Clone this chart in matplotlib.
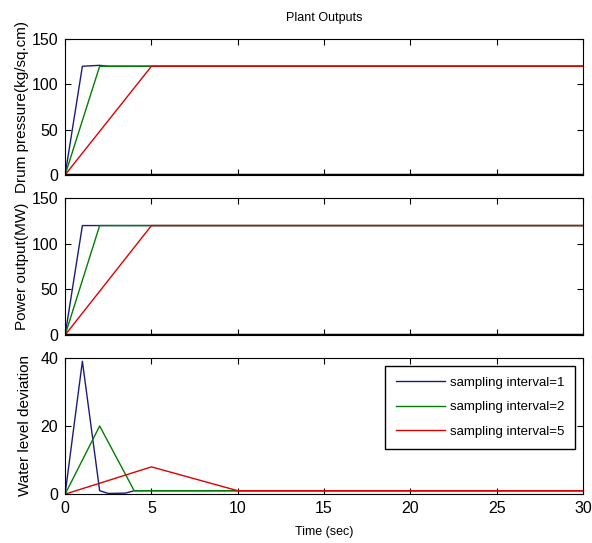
import matplotlib.pyplot as plt

plt.rcParams['font.family'] = ['Liberation Sans', 'DejaVu Sans']

# time samples and responses for each sampling interval
t1 = [0, 1, 2, 2.5, 3, 30]
t2 = [0, 2, 30]
t5 = [0, 5, 30]

drum1 = [0, 120, 121, 120, 120, 120]
drum2 = [0, 120, 120]
drum5 = [0, 120, 120]

power1 = [0, 120, 120, 120, 120, 120]
power2 = [0, 120, 120]
power5 = [0, 120, 120]

wt1 = [0, 1, 2, 2.5, 3.5, 4, 30]
water1 = [0, 39, 1, 0.2, 0.3, 1, 1]
wt2 = [0, 2, 4, 10, 30]
water2 = [0, 20, 1, 1, 1]
wt5 = [0, 5, 10, 30]
water5 = [0, 8, 1, 1]

labels = ['sampling interval=1', 'sampling interval=2', 'sampling interval=5']
colors = ['#1c1c80', '#008000', '#e00000']

fig = plt.figure(figsize=(5.92, 5.43), dpi=100)
ax1 = fig.add_axes([0.110, 0.678, 0.875, 0.250])
ax2 = fig.add_axes([0.110, 0.383, 0.875, 0.252])
ax3 = fig.add_axes([0.110, 0.090, 0.875, 0.251])

ax1.plot(t1, drum1, color=colors[0], lw=1)
ax1.plot(t2, drum2, color=colors[1], lw=1)
ax1.plot(t5, drum5, color=colors[2], lw=1)
ax1.axhline(0, color='black', lw=2.5)
ax1.set_ylim(0, 150)
ax1.set_ylabel('Drum pressure(kg/sq.cm)', fontsize=11, labelpad=2)
ax1.set_title('Plant Outputs', fontsize=9, pad=13)

ax2.plot(t1, power1, color=colors[0], lw=1)
ax2.plot(t2, power2, color=colors[1], lw=1)
ax2.plot(t5, power5, color=colors[2], lw=1)
ax2.axhline(0, color='black', lw=2.5)
ax2.set_ylim(0, 150)
ax2.set_ylabel('Power output(MW)', fontsize=11, labelpad=2)

ax3.plot(wt1, water1, color=colors[0], lw=1, label=labels[0])
ax3.plot(wt2, water2, color=colors[1], lw=1, label=labels[1])
ax3.plot(wt5, water5, color=colors[2], lw=1, label=labels[2])
ax3.set_ylim(0, 40)
ax3.set_yticks([0, 20, 40])
ax3.set_ylabel('Water level deviation', fontsize=11, labelpad=6)
ax3.set_xlabel('Time (sec)', fontsize=9, labelpad=7)
ax3.legend(loc='upper right', fontsize=9.5, fancybox=False, edgecolor='black',
           framealpha=1, borderpad=0.8, handlelength=3.7, handletextpad=0.4,
           labelspacing=0.95, borderaxespad=0.6)

for ax in (ax1, ax2, ax3):
    ax.set_xlim(0, 30)
    ax.set_xticks([0, 5, 10, 15, 20, 25, 30])
    ax.tick_params(direction='in', top=True, right=True, labelsize=11.5, length=4, pad=5)
    for s in ax.spines.values():
        s.set_linewidth(0.8)
for ax in (ax1, ax2):
    ax.set_yticks([0, 50, 100, 150])
    ax.set_xticklabels([])

fig.savefig('out.png')
